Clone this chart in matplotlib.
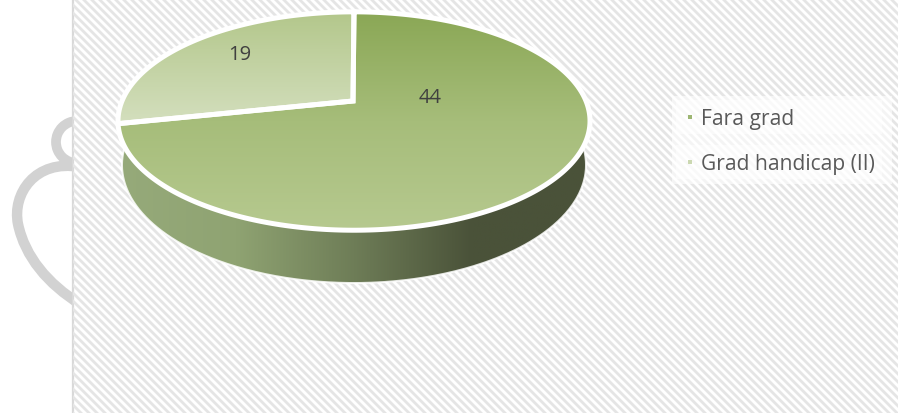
import matplotlib
matplotlib.use('Agg')
import matplotlib.pyplot as plt
import matplotlib.colors as mc
from matplotlib.patches import Polygon, Rectangle, Arc, PathPatch
from matplotlib.path import Path
import numpy as np

categories = ['Fara grad', 'Grad handicap (II)']
values = [44, 19]
marker_colors = ['#9DB673', '#CBD8B1']

plt.rcParams['font.family'] = ['Open Sans', 'DejaVu Sans']

W, H = 898, 414
fig = plt.figure(figsize=(W / 100, H / 100), dpi=100)
ax = fig.add_axes([0, 0, 1, 1])
ax.set_xlim(0, W)
ax.set_ylim(H, 0)
ax.axis('off')

# cup outline behind the panel
ax.add_patch(Arc((77, 143), 42, 42, lw=7, color='#D2D2D2', zorder=1))
cup = Path([(80, 168), (35, 160), (12, 195), (18, 225), (25, 258), (48, 285), (80, 305)],
           [Path.MOVETO, Path.CURVE4, Path.CURVE4, Path.CURVE4, Path.CURVE4, Path.CURVE4, Path.CURVE4])
ax.add_patch(PathPatch(cup, fc='none', ec='#D2D2D2', lw=7.5, capstyle='butt', zorder=1))

# striped panel
panel = Rectangle((73, 0), W - 73, H, fc='white', ec='none', zorder=2)
ax.add_patch(panel)
ax.plot([73, 73], [0, H], color='#D9D9D9', lw=1.6, zorder=3)
for x0 in np.arange(73 - H, W, 8.0):
    ln, = ax.plot([x0, x0 + H], [0, H], color='#E5E5E5', lw=2.0, zorder=3)
    ln.set_clip_path(panel)


def gradient(points, stops, horizontal=False, z=5):
    # fills a polygon with a linear colour ramp
    cmap = mc.LinearSegmentedColormap.from_list('ramp', stops)
    xs, ys = zip(*points)
    g = np.linspace(0, 1, 256)
    g = g[None, :] if horizontal else g[:, None]
    im = ax.imshow(g, cmap=cmap, aspect='auto', zorder=z, vmin=0, vmax=1,
                   extent=[min(xs), max(xs), max(ys), min(ys)])
    poly = Polygon(points, closed=True, fc='none', ec='none', zorder=z)
    ax.add_patch(poly)
    im.set_clip_path(poly)


# side of the pie
cx, cy = 354, 166
a = np.radians(np.linspace(-10, 190, 300))
side = [(cx + 232 * np.cos(v), cy + 118 * np.sin(v)) for v in a]
side = [(118, 128)] + side + [(590, 128)]
gradient(side, ['#96AA7A', '#8FA372', '#6E7D57', '#4A5239', '#4A5239'], horizontal=True, z=4)
xs, ys = zip(*side[1:-1])
ax.plot(xs, ys, color='white', lw=1.4, alpha=0.85, zorder=5)

# top of the pie, seen in perspective
apex_x, apex_y = 353, 102
c = (202 - 242) / 218
k = 89 + 12 * c
R = 236 * np.sqrt(1 - c ** 2)


def rim(theta):
    v = -np.cos(theta)
    d = c * v + 1
    return cx + R * np.sin(theta) / d, (k * v + apex_y) / d


def warp(theta):
    # foreshortening of the angles on the tilted disc
    return theta + np.radians(11) * np.sin(2 * theta)


total = sum(values)
small = 2 * np.pi * values[1] / total
split = warp(small)
big_t = np.linspace(0, 2 * np.pi - split, 300)
small_t = np.linspace(2 * np.pi - split, 2 * np.pi, 200)
big_pts = [(apex_x, apex_y)] + list(zip(*rim(big_t)))
small_pts = [(apex_x, apex_y)] + list(zip(*rim(small_t)))
gradient(big_pts, ['#8AA755', '#A6BD7A', '#B6C98F'], z=6)
gradient(small_pts, ['#B3C78B', '#D4DFBE'], z=6)
for pts in (big_pts, small_pts):
    ax.add_patch(Polygon(pts, closed=True, fc='none', ec='white', lw=3.6, joinstyle='miter', zorder=7))

# data labels
ax.text(430, 98, str(values[0]), fontsize=14.5, color='#404040', ha='center', va='center', zorder=8)
ax.text(240, 55, str(values[1]), fontsize=14.5, color='#404040', ha='center', va='center', zorder=8)

# legend
ax.add_patch(Rectangle((672, 97), 220, 88, fc='white', alpha=0.6, ec='none', zorder=4))
for name, col, y in zip(categories, marker_colors, [118, 163]):
    ax.add_patch(Rectangle((676, y - 17), 206, 34, fc='white', alpha=0.5, ec='none', zorder=4))
    ax.add_patch(Rectangle((687.5, y - 2), 4, 4, fc=col, ec='none', zorder=6))
    ax.text(701, y + 1.5, name, fontsize=15.1, color='#595959', ha='left', va='center', zorder=6)

ax.set_xlim(0, W)
ax.set_ylim(H, 0)
fig.savefig('out.png', dpi=100)
